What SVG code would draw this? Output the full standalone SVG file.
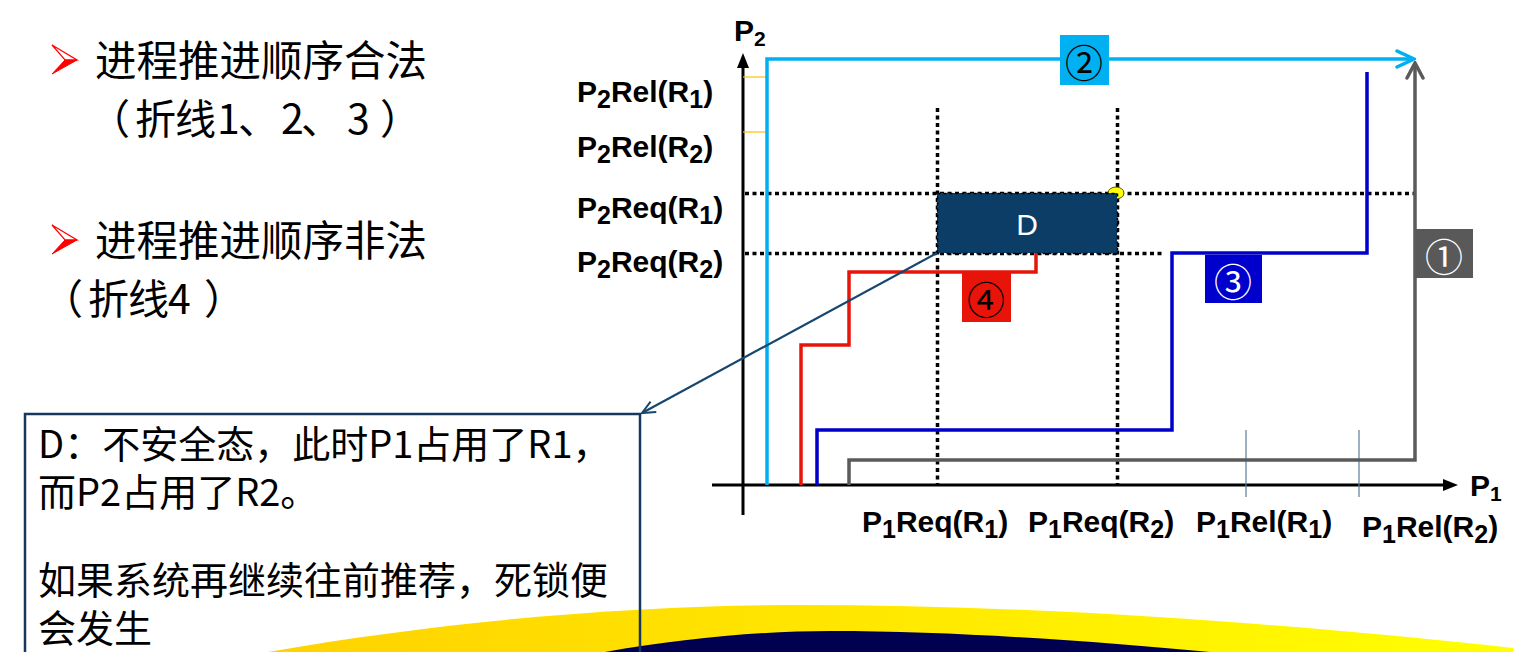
<svg xmlns="http://www.w3.org/2000/svg" width="1513" height="652" viewBox="0 0 1513 652">
  <style>
    .cjk { font-family: "Noto Sans CJK SC", "Noto Sans", sans-serif; fill: #000; }
    .lbl { font-family: "Liberation Sans", Arial, sans-serif; font-weight: bold; font-size: 30px; fill: #000; }
    .axis { stroke: #000; stroke-width: 3; fill: none; }
    .dot { stroke: #000; stroke-width: 3.5; stroke-dasharray: 4 3.5; fill: none; }
    .path { fill: none; stroke-width: 3.5; stroke-linejoin: miter; }
    .badge { font-family: "Noto Sans CJK SC", "DejaVu Sans", sans-serif; font-size: 38px; text-anchor: middle; dominant-baseline: central; }
  </style>
  <defs>
    <linearGradient id="gold" x1="0" y1="0" x2="1" y2="0">
      <stop offset="0" stop-color="#FFD200"/>
      <stop offset="1" stop-color="#FFFF00"/>
    </linearGradient>
    <!-- red bullet arrowhead: outlined top half, solid bottom half -->
    <g id="bullet">
      <polygon points="0,0 25,15 13,15" fill="#fff" stroke="#FF0000" stroke-width="1.2"/>
      <polygon points="13,15 25,15 0,29" fill="#FF0000" stroke="#FF0000" stroke-width="1"/>
    </g>
    <marker id="chevBlue" markerUnits="userSpaceOnUse" viewBox="-20 -10 22 20" refX="0" refY="0" markerWidth="22" markerHeight="20" orient="auto">
      <path d="M -17 -8 L 0 0 L -17 8" fill="none" stroke="#00B0F0" stroke-width="3.5" stroke-linecap="round"/>
    </marker>
    <marker id="chevGrey" markerUnits="userSpaceOnUse" viewBox="-20 -10 22 20" refX="0" refY="0" markerWidth="22" markerHeight="20" orient="auto">
      <path d="M -15 -8 L 0 0 L -15 8" fill="none" stroke="#5A5A5A" stroke-width="3.5" stroke-linecap="round"/>
    </marker>
    <marker id="chevNote" markerUnits="userSpaceOnUse" viewBox="-16 -9 18 18" refX="0" refY="0" markerWidth="18" markerHeight="18" orient="auto">
      <path d="M -13 -6 L 0 0 L -13 6" fill="none" stroke="#17466F" stroke-width="2"/>
    </marker>
  </defs>

  <rect width="1513" height="652" fill="#fff"/>

  <!-- decorative bands along the bottom edge -->
  <g id="bands">
    <path d="M 268 652 C 450 620 640 605 800 605 C 1050 605 1300 625 1513 648 L 1513 652 Z" fill="url(#gold)"/>
    <path d="M 605 652 C 680 639 760 631 830 631 C 960 631 1100 642 1210 652 Z" fill="#000050"/>
  </g>

  <!-- bullet list on the left -->
  <g id="legend">
    <use href="#bullet" x="52" y="45"/>
    <text class="cjk" x="95" y="76" font-size="41.5">进程推进顺序合法</text>
    <text class="cjk" x="89 135 175 217 238 281 301 347 380" y="134" font-size="41">（折线1、2、3）</text>
    <use href="#bullet" x="52" y="225"/>
    <text class="cjk" x="95" y="256" font-size="41.5">进程推进顺序非法</text>
    <text class="cjk" x="42 88 128 168 204" y="314" font-size="41">（折线4）</text>
  </g>

  <!-- axes -->
  <g id="axes">
    <line class="axis" x1="743" y1="515" x2="743" y2="66"/>
    <polygon points="743,53 737,68 749,68" fill="#000"/>
    <line class="axis" x1="712" y1="485" x2="1446" y2="485"/>
    <polygon points="1458,485 1443,479 1443,491" fill="#000"/>
    <text class="lbl" x="734" y="41" font-size="27">P<tspan font-size="21" dy="5">2</tspan></text>
    <text class="lbl" x="1470" y="496" font-size="27">P<tspan font-size="21" dy="5">1</tspan></text>
    <!-- ticks -->
    <line x1="743" y1="77" x2="767" y2="77" stroke="#FFC000" stroke-width="1.2"/>
    <line x1="743" y1="132" x2="767" y2="132" stroke="#FFC000" stroke-width="1.2"/>
    <line x1="1246" y1="430" x2="1246" y2="497" stroke="#5B7C99" stroke-width="1.2"/>
    <line x1="1359" y1="430" x2="1359" y2="497" stroke="#5B7C99" stroke-width="1.2"/>
  </g>

  <!-- axis labels -->
  <g id="p2-labels">
    <text class="lbl" x="577" y="102">P<tspan font-size="25" dy="6">2</tspan><tspan dy="-6">Rel(R</tspan><tspan font-size="25" dy="6">1</tspan><tspan dy="-6">)</tspan></text>
    <text class="lbl" x="577" y="157">P<tspan font-size="25" dy="6">2</tspan><tspan dy="-6">Rel(R</tspan><tspan font-size="25" dy="6">2</tspan><tspan dy="-6">)</tspan></text>
    <text class="lbl" x="577" y="218">P<tspan font-size="25" dy="6">2</tspan><tspan dy="-6">Req(R</tspan><tspan font-size="25" dy="6">1</tspan><tspan dy="-6">)</tspan></text>
    <text class="lbl" x="577" y="272">P<tspan font-size="25" dy="6">2</tspan><tspan dy="-6">Req(R</tspan><tspan font-size="25" dy="6">2</tspan><tspan dy="-6">)</tspan></text>
  </g>
  <g id="p1-labels">
    <text class="lbl" x="862" y="532">P<tspan font-size="25" dy="6">1</tspan><tspan dy="-6">Req(R</tspan><tspan font-size="25" dy="6">1</tspan><tspan dy="-6">)</tspan></text>
    <text class="lbl" x="1028" y="532">P<tspan font-size="25" dy="6">1</tspan><tspan dy="-6">Req(R</tspan><tspan font-size="25" dy="6">2</tspan><tspan dy="-6">)</tspan></text>
    <text class="lbl" x="1196" y="532">P<tspan font-size="25" dy="6">1</tspan><tspan dy="-6">Rel(R</tspan><tspan font-size="25" dy="6">1</tspan><tspan dy="-6">)</tspan></text>
    <text class="lbl" x="1362" y="537">P<tspan font-size="25" dy="6">1</tspan><tspan dy="-6">Rel(R</tspan><tspan font-size="25" dy="6">2</tspan><tspan dy="-6">)</tspan></text>
  </g>

  <!-- dotted guide lines -->
  <g id="guides">
    <line class="dot" x1="937.5" y1="108" x2="937.5" y2="485"/>
    <line class="dot" x1="1117.5" y1="108" x2="1117.5" y2="485"/>
    <line class="dot" x1="745" y1="193.5" x2="1414" y2="193.5"/>
    <line class="dot" x1="745" y1="253.5" x2="1164" y2="253.5"/>
  </g>

  <!-- unsafe region D -->
  <g id="region-d">
    <ellipse cx="1116" cy="193" rx="8" ry="6" fill="#FFFF00" stroke="#55550A" stroke-width="1"/>
    <rect x="937" y="193" width="180" height="60" fill="#0B3D66"/>
    <rect x="937.5" y="193.5" width="180" height="60" fill="none" stroke="#000" stroke-width="1.5" stroke-dasharray="3 3"/>
    <text x="1027" y="235" font-family="Liberation Sans, Arial, sans-serif" font-size="30" fill="#fff" text-anchor="middle">D</text>
  </g>

  <!-- progress paths -->
  <g id="connectors">
    <polyline class="path" stroke="#00B0F0" stroke-width="4" points="767,485 767,59 1414,59" marker-end="url(#chevBlue)"/>
    <polyline class="path" stroke="#5A5A5A" points="849,485 849,460 1415,460 1415,63" marker-end="url(#chevGrey)"/>
    <polyline class="path" stroke="#0000CC" points="817,485 817,430 1172,430 1172,253 1367,253 1367,72"/>
    <polyline class="path" stroke="#E8140A" points="801,485 801,345 849,345 849,272 1036,272 1036,253"/>
    <line x1="937" y1="253" x2="642" y2="413" stroke="#17466F" stroke-width="2.2" marker-end="url(#chevNote)"/>
  </g>

  <!-- path badges -->
  <g id="badge-1">
    <rect x="1416" y="229" width="57" height="49" fill="#595959"/>
    <text class="badge" x="1444" y="254" fill="#fff">①</text>
  </g>
  <g id="badge-2">
    <rect x="1060" y="35" width="49" height="50" fill="#00B0F0"/>
    <text class="badge" x="1084" y="60" fill="#000">②</text>
  </g>
  <g id="badge-3">
    <rect x="1205" y="255" width="57" height="48" fill="#0000CC"/>
    <text class="badge" x="1233" y="279" fill="#fff">③</text>
  </g>
  <g id="badge-4">
    <rect x="962" y="273" width="49" height="49" fill="#E8140A"/>
    <text class="badge" x="986" y="297" fill="#000">④</text>
  </g>

  <!-- explanation note -->
  <g id="note">
    <rect x="25" y="414" width="615" height="260" fill="none" stroke="#17375E" stroke-width="2.5"/>
    <text class="cjk" x="38" y="458" font-size="38">D：不安全态，此时P1占用了R1，</text>
    <text class="cjk" x="38" y="506" font-size="38">而P2占用了R2。</text>
    <text class="cjk" x="38" y="594" font-size="38">如果系统再继续往前推荐，死锁便</text>
    <text class="cjk" x="38" y="642" font-size="38">会发生</text>
  </g>
</svg>
